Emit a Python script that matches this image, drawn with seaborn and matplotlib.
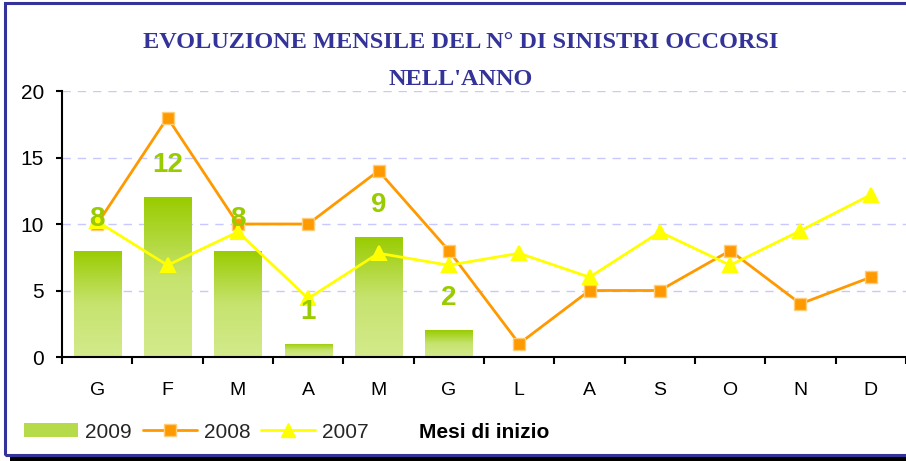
import numpy as np
import pandas as pd
import matplotlib
matplotlib.use("Agg")
import matplotlib.pyplot as plt
import seaborn as sns
from matplotlib.colors import LinearSegmentedColormap
from matplotlib.patches import Patch, Rectangle
from matplotlib.lines import Line2D

# data
months = ["Gennaio", "Febbraio", "Marzo", "Aprile", "Maggio", "Giugno",
          "Luglio", "Agosto", "Settembre", "Ottobre", "Novembre", "Dicembre"]
month_labels = ["G", "F", "M", "A", "M", "G", "L", "A", "S", "O", "N", "D"]
months_2009 = months[:6]
sinistri_2009 = [8, 12, 8, 1, 9, 2]
sinistri_2008 = [10, 18, 10, 10, 14, 8, 1, 5, 5, 8, 4, 6]
sinistri_2007 = [10.2, 6.9, 9.4, 4.4, 7.8, 6.9, 7.8, 6.0, 9.4, 6.9, 9.5, 12.2]

sns.set_theme(style="white")
plt.rcParams["font.family"] = ["Liberation Sans", "DejaVu Sans"]

fig = plt.figure(figsize=(9.06, 4.61), dpi=100)
ax = fig.add_axes([62 / 906, 1 - 357 / 461, (906 - 62) / 906, 266 / 461])

df09 = pd.DataFrame({"mese": months_2009, "n": sinistri_2009})
df08 = pd.DataFrame({"mese": months, "n": sinistri_2008})
df07 = pd.DataFrame({"mese": months, "n": sinistri_2007})

sns.barplot(data=df09, x="mese", y="n", order=months, width=0.67,
            color="#99CC00", ax=ax, zorder=2)

# vertical gradient fill for the bars
green_grad = LinearSegmentedColormap.from_list("g", ["#D4EA8C", "#C6E36E", "#99CC00"])
grad = np.linspace(0, 1, 256).reshape(-1, 1)
for p in list(ax.patches):
    x0, y0 = p.get_x(), p.get_y()
    w, h = p.get_width(), p.get_height()
    im = ax.imshow(grad, cmap=green_grad, origin="lower", aspect="auto",
                   extent=[x0, x0 + w, y0, y0 + h], zorder=2)
    im.set_clip_path(p)
    p.set_facecolor("none")
    p.set_edgecolor("none")

sns.pointplot(data=df08, x="mese", y="n", order=months, color="#FF9900",
              markers="s", errorbar=None, ax=ax, linewidth=2,
              markersize=9, markeredgecolor="#FFCC77", markeredgewidth=1)
sns.pointplot(data=df07, x="mese", y="n", order=months, color="#FFFF00",
              markers="^", errorbar=None, ax=ax, linewidth=2,
              markersize=10, markeredgecolor="#FFFF00")
for ln in ax.lines:
    ln.set_zorder(4)

# value labels for 2009
for i, v in enumerate(sinistri_2009):
    ax.annotate(str(v), (i, v), xytext=(0, 23), textcoords="offset points",
                ha="center", va="center", fontsize=20, fontweight="bold",
                color="#99CC00", zorder=6)

ax.set_xlim(-0.5, 11.5)
ax.set_ylim(0, 20)
ax.set_yticks([0, 5, 10, 15, 20])
ax.set_xticks(range(12))
ax.set_xticklabels(month_labels)
ax.set_xticks(np.arange(-0.5, 12, 1), minor=True)
ax.tick_params(axis="x", which="major", length=0, pad=18, labelsize=14, colors="black")
ax.tick_params(axis="x", which="minor", length=5, width=1.5, direction="out",
               color="black", bottom=True)
ax.tick_params(axis="y", length=4, width=1.5, direction="out", pad=9,
               labelsize=15, colors="black", left=True)
ax.grid(axis="y", color="#C8C8FF", linestyle=(0, (6, 5)), linewidth=1)
ax.set_axisbelow(True)
for side in ["top", "right"]:
    ax.spines[side].set_visible(False)
for side in ["left", "bottom"]:
    ax.spines[side].set_color("black")
    ax.spines[side].set_linewidth(1.5)
ax.set_ylabel("")
ax.set_xlabel("Mesi di inizio", fontsize=15, fontweight="bold", color="black")
ax.xaxis.set_label_coords(0.5, (357 - 432) / 266)
ax.xaxis.label.set_va("center")

# title
title_kw = dict(ha="center", va="center", fontsize=17.5, fontweight="bold",
                color="#333399", family=["Liberation Serif", "DejaVu Serif"])
fig.text(461 / 906, 1 - 43 / 461, "EVOLUZIONE MENSILE DEL N° DI SINISTRI OCCORSI", **title_kw)
fig.text(461 / 906, 1 - 79 / 461, "NELL'ANNO", **title_kw)

# legend
handles = [
    Patch(facecolor="#B5DB4A", edgecolor="none"),
    Line2D([], [], color="#FF9900", lw=2, marker="s", markersize=8,
           markeredgecolor="#FFCC77"),
    Line2D([], [], color="#FFFF00", lw=2, marker="^", markersize=10),
]
fig.legend(handles, ["2009", "2008", "2007"], loc="center left",
           bbox_to_anchor=(24 / 906, 1 - 432 / 461), ncol=3, frameon=False,
           fontsize=15, handlelength=2.6, handletextpad=0.35,
           columnspacing=0.5, handleheight=0.65, borderpad=0, borderaxespad=0)

# frame around the chart with shadow
fig.patches.append(Rectangle((10 / 906, 0), 1.0, 6 / 461,
                             transform=fig.transFigure, facecolor="black",
                             edgecolor="none", zorder=0))
fig.patches.append(Rectangle((5 / 906, 1 - 455 / 461), 1.2, 452 / 461,
                             transform=fig.transFigure, facecolor="none",
                             edgecolor="#333399", lw=2.2, zorder=1))

fig.savefig("out.png", dpi=100)
